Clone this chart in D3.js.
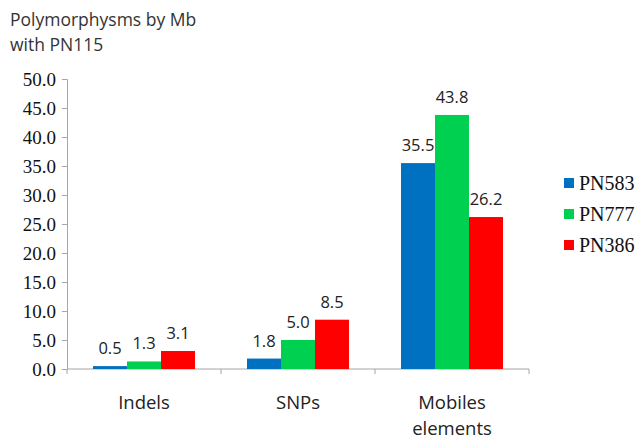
<!DOCTYPE html>
<html>
<head>
<meta charset="utf-8">
<script src="https://cdn.jsdelivr.net/npm/d3@7"></script>
<style>
  body { margin: 0; background: #fff; }
</style>
</head>
<body>
<div id="chart"></div>
<script>
// data
var categories = ["Indels", "SNPs", "Mobiles elements"];
var seriesNames = ["PN583", "PN777", "PN386"];
var pn583 = [0.5, 1.8, 35.5];
var pn777 = [1.3, 5.0, 43.8];
var pn386 = [3.1, 8.5, 26.2];
var yTicks = [0, 5, 10, 15, 20, 25, 30, 35, 40, 45, 50];
var titleLines = ["Polymorphysms by Mb", "with PN115"];

var colors = ["#0070C0", "#00D050", "#FF0000"];
var values = [pn583, pn777, pn386];

var width = 642, height = 440;
var margin = { left: 67, top: 79, right: 113, bottom: 71 };

var svg = d3.select("#chart").append("svg")
    .attr("width", width)
    .attr("height", height);

var x0 = d3.scaleBand()
    .domain(categories)
    .range([margin.left, width - margin.right])
    .paddingInner(0)
    .paddingOuter(0);

var x1 = d3.scaleBand()
    .domain(seriesNames)
    .range([26, x0.bandwidth() - 26]);

var y = d3.scaleLinear()
    .domain([0, 50])
    .range([height - margin.bottom, margin.top]);

// title
svg.selectAll("text.title")
    .data(titleLines)
    .enter().append("text")
    .attr("class", "title")
    .attr("x", 10)
    .attr("y", function (d, i) { return 26 + i * 25; })
    .attr("font-family", "'Open Sans', sans-serif")
    .attr("font-size", "17.5px")
    .attr("fill", "#333")
    .text(function (d) { return d; });

// y axis
var yAxis = d3.axisLeft(y)
    .tickValues(yTicks)
    .tickFormat(d3.format(".1f"))
    .tickSize(5)
    .tickPadding(6);

var gy = svg.append("g")
    .attr("transform", "translate(" + margin.left + ",0)")
    .call(yAxis);
gy.select(".domain").attr("stroke", "#a6a6a6");
gy.selectAll(".tick line").attr("stroke", "#a6a6a6");
gy.selectAll(".tick text")
    .attr("font-family", "'Liberation Serif', 'Times New Roman', serif")
    .attr("font-size", "19px")
    .attr("fill", "#111");

// x axis
var gx = svg.append("g")
    .attr("transform", "translate(0," + y(0) + ")");
gx.append("line")
    .attr("x1", margin.left)
    .attr("x2", width - margin.right)
    .attr("stroke", "#a6a6a6");
var bounds = categories.map(function (c) { return x0(c); }).concat([x0(categories[categories.length - 1]) + x0.bandwidth()]);
gx.selectAll("line.tk")
    .data(bounds)
    .enter().append("line")
    .attr("class", "tk")
    .attr("x1", function (d) { return d; })
    .attr("x2", function (d) { return d; })
    .attr("y1", 0)
    .attr("y2", 5)
    .attr("stroke", "#a6a6a6");

// category labels
var catLabel = svg.selectAll("text.cat")
    .data(categories)
    .enter().append("text")
    .attr("class", "cat")
    .attr("text-anchor", "middle")
    .attr("font-family", "'Open Sans', sans-serif")
    .attr("font-size", "18.5px")
    .attr("fill", "#222")
    .attr("transform", function (d) {
        return "translate(" + (x0(d) + x0.bandwidth() / 2) + "," + (y(0) + 40) + ")";
    });
catLabel.each(function (d) {
    var words = d.split(" ");
    var t = d3.select(this);
    words.forEach(function (w, i) {
        t.append("tspan").attr("x", 0).attr("dy", i === 0 ? 0 : 26).text(w);
    });
});

// bars
var groups = svg.selectAll("g.grp")
    .data(categories)
    .enter().append("g")
    .attr("class", "grp")
    .attr("transform", function (d) { return "translate(" + x0(d) + ",0)"; });

groups.selectAll("rect")
    .data(function (d, ci) {
        return seriesNames.map(function (s, si) { return { s: s, si: si, v: values[si][ci] }; });
    })
    .enter().append("rect")
    .attr("x", function (d) { return x1(d.s); })
    .attr("width", x1.bandwidth())
    .attr("y", function (d) { return y(d.v); })
    .attr("height", function (d) { return y(0) - y(d.v); })
    .attr("fill", function (d) { return colors[d.si]; });

groups.selectAll("text")
    .data(function (d, ci) {
        return seriesNames.map(function (s, si) { return { s: s, si: si, v: values[si][ci] }; });
    })
    .enter().append("text")
    .attr("x", function (d) { return x1(d.s) + x1.bandwidth() / 2; })
    .attr("y", function (d) { return y(d.v) - 12; })
    .attr("text-anchor", "middle")
    .attr("font-family", "'Open Sans', sans-serif")
    .attr("font-size", "16.5px")
    .attr("fill", "#222")
    .text(function (d) { return d.v.toFixed(1); });

// legend
var legend = svg.selectAll("g.leg")
    .data(seriesNames)
    .enter().append("g")
    .attr("class", "leg")
    .attr("transform", function (d, i) { return "translate(564," + (183 + i * 31) + ")"; });
legend.append("rect")
    .attr("x", 0)
    .attr("y", -5)
    .attr("width", 10)
    .attr("height", 10)
    .attr("fill", function (d, i) { return colors[i]; });
legend.append("text")
    .attr("x", 15)
    .attr("y", 7)
    .attr("font-family", "'Liberation Serif', 'Times New Roman', serif")
    .attr("font-size", "20px")
    .attr("fill", "#111")
    .text(function (d) { return d; });
</script>
</body>
</html>
